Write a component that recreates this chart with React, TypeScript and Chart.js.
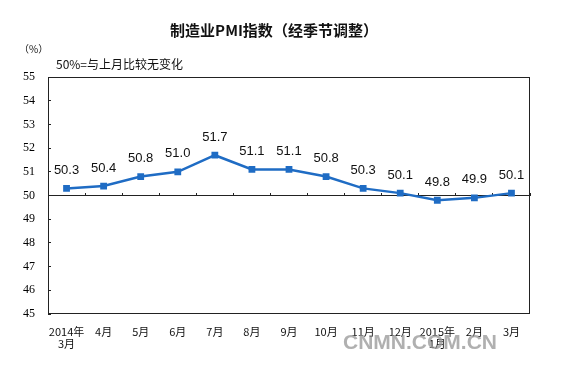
import React, { useEffect, useRef } from "react";
import { Chart, registerables } from "chart.js";

Chart.register(...registerables);

const categories: string[][] = [
  ["2014年", "3月"], ["4月"], ["5月"], ["6月"], ["7月"], ["8月"], ["9月"],
  ["10月"], ["11月"], ["12月"], ["2015年", "1月"], ["2月"], ["3月"],
];
const pmiValues: number[] = [50.3, 50.4, 50.8, 51.0, 51.7, 51.1, 51.1, 50.8, 50.3, 50.1, 49.8, 49.9, 50.1];
const yTicks: number[] = [45, 46, 47, 48, 49, 50, 51, 52, 53, 54, 55];

const titleText = "制造业PMI指数（经季节调整）";
const unitText = "（%）";
const noteText = "50%=与上月比较无变化";
const watermarkText = "CNMN.COM.CN";

const LINE_COLOR = "#1f6cc4";
const AXIS_COLOR = "#222222";

const decorPlugin = {
  id: "decor",
  beforeDraw(chart: any) {
    const ctx = chart.ctx;
    ctx.save();
    ctx.fillStyle = "#ffffff";
    ctx.fillRect(0, 0, chart.width, chart.height);
    ctx.fillStyle = "#111";
    ctx.textBaseline = "middle";
    ctx.textAlign = "center";
    ctx.font = "bold 15px 'Noto Sans CJK SC'";
    ctx.fillText(titleText, 274, 30);
    ctx.textAlign = "left";
    ctx.font = "10px 'Noto Sans CJK SC'";
    ctx.fillText(unitText, 19, 49);
    ctx.font = "12px 'Noto Sans CJK SC'";
    ctx.fillText(noteText, 56, 64);
    ctx.restore();
  },
  afterDraw(chart: any) {
    const ctx = chart.ctx;
    const a = chart.chartArea;
    ctx.save();
    ctx.strokeStyle = AXIS_COLOR;
    ctx.lineWidth = 1;
    ctx.strokeRect(Math.round(a.left) + 0.5, Math.round(a.top) + 0.5, Math.round(a.right - a.left) - 1, Math.round(a.bottom - a.top) - 1);
    const meta = chart.getDatasetMeta(0);
    ctx.fillStyle = "#111";
    ctx.font = "13px 'Liberation Sans', Arial";
    ctx.textAlign = "center";
    ctx.textBaseline = "middle";
    meta.data.forEach((pt: any, i: number) => {
      ctx.fillText(pmiValues[i].toFixed(1), pt.x, pt.y - 18);
    });
    ctx.font = "bold 21px 'Liberation Sans', Arial";
    ctx.textAlign = "left";
    ctx.fillStyle = "rgba(150,150,150,0.75)";
    ctx.fillText(watermarkText, 343, 343);
    ctx.restore();
  },
};

export default function App() {
  const ref = useRef<HTMLCanvasElement>(null);
  useEffect(() => {
    if (!ref.current) return;
    const chart = new Chart(ref.current, {
      type: "line",
      data: {
        labels: categories as any,
        datasets: [
          {
            data: pmiValues,
            borderColor: LINE_COLOR,
            backgroundColor: LINE_COLOR,
            borderWidth: 2.5,
            pointStyle: "rect",
            pointRadius: 4.8,
            pointBorderWidth: 0,
            pointBackgroundColor: LINE_COLOR,
            tension: 0,
          },
        ],
      },
      options: {
        responsive: false,
        animation: false,
        devicePixelRatio: 1,
        layout: { padding: { left: 0, right: 33, top: 77, bottom: 0 } },
        plugins: { legend: { display: false }, tooltip: { enabled: false }, title: { display: false } },
        scales: {
          x: {
            type: "category",
            position: "bottom",
            offset: true,
            grid: { display: false, drawTicks: false },
            border: { display: false },
            ticks: {
              color: "#111",
              font: { family: "'Noto Sans CJK SC'", size: 11, lineHeight: 1.1 },
              padding: 12,
              maxRotation: 0,
              autoSkip: false,
            },
            afterFit: (s: any) => { s.height = 62; },
          },
          x2: {
            type: "category",
            position: { y: 50 } as any,
            offset: true,
            grid: { offset: true, drawOnChartArea: false, drawTicks: true, tickLength: -3, color: AXIS_COLOR },
            border: { display: true, color: AXIS_COLOR, width: 1 },
            ticks: { display: false },
          },
          y: {
            min: 45,
            max: 55,
            afterBuildTicks: (s: any) => { s.ticks = yTicks.map((v) => ({ value: v })); },
            grid: { drawOnChartArea: false, drawTicks: true, tickLength: -3, color: AXIS_COLOR },
            border: { display: false },
            ticks: {
              color: "#000",
              font: { family: "'Liberation Serif', 'Times New Roman'", size: 12 },
              padding: 16,
            },
            afterFit: (s: any) => { s.width = 48; },
          },
        },
      },
      plugins: [decorPlugin],
    });
    return () => chart.destroy();
  }, []);
  return (
    <div style={{ position: "fixed", left: 0, top: 0, width: 563, height: 376, background: "#fff" }}>
      <canvas ref={ref} width={563} height={376} />
    </div>
  );
}
